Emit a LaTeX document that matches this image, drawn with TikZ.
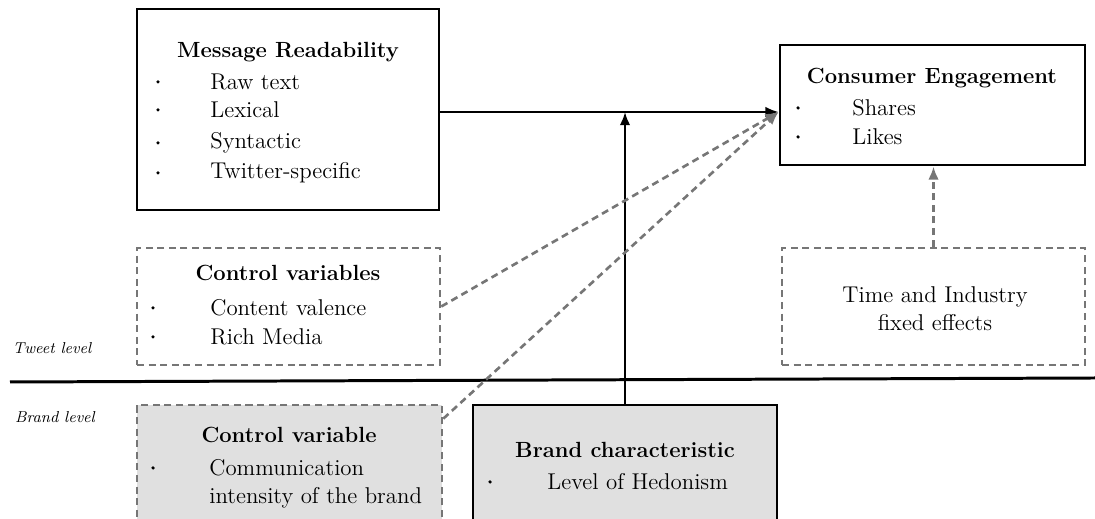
\documentclass[tikz,border=0pt]{standalone}
\usepackage{tikz}
\usetikzlibrary{arrows.meta}
\definecolor{dashgray}{RGB}{118,118,118}
\definecolor{boxgray}{RGB}{224,224,224}

\begin{document}
\begin{tikzpicture}[>={Latex[length=7.5pt,width=6pt]}, x=0.02cm, y=0.02cm,
		txt/.style={font=\fontsize{13}{15}\selectfont, inner sep=0pt},
		ttl/.style={font=\fontsize{12.5}{15}\selectfont\bfseries, inner sep=0pt},
		lvl/.style={font=\fontsize{9}{11}\selectfont\itshape, inner sep=0pt},
		solidbox/.style={draw, line width=1.6pt, inner sep=0pt},
		dashbox/.style={draw=dashgray, line width=1.5pt, dash pattern=on 4pt off 2.6pt, inner sep=0pt},
		solidarrow/.style={line width=1.3pt, ->},
		dasharrow/.style={draw=dashgray, line width=1.5pt, dash pattern=on 4pt off 2.6pt, ->}]

				\useasboundingbox (0,0) rectangle (1095,519);

				\node[solidbox, minimum width=6.04cm, minimum height=4.02cm] (msg) at (288,409.5) {};
				\node[solidbox, minimum width=6.1cm, minimum height=2.4cm] (eng) at (932.5,414) {};
				\node[dashbox, minimum width=6.06cm, minimum height=2.34cm] (ctrl) at (288.5,212.5) {};
				\node[dashbox, minimum width=6.06cm, minimum height=2.34cm] (fixed) at (933.5,212.5) {};
				\node[dashbox, fill=boxgray, minimum width=6.1cm, minimum height=3.1cm] (brandctrl) at (289.5,36.5) {};
				\node[solidbox, fill=boxgray, minimum width=6.08cm, minimum height=3.1cm] (brand) at (625,36.5) {};

				\draw[line width=1.7pt] (10,137)--(1095,141);

				\node[lvl] (tweetlvl) at (52,171) {Tweet level};
				\node[lvl] (brandlvl) at (55,102) {Brand level};

				\node[ttl] (msgttl) at (288,467) {Message Readability};
				\foreach \y in {437,409,376,346} \fill (158,\y) circle (1pt);
				\node[txt, anchor=west] (raw) at (210,437) {Raw text};
				\node[txt, anchor=west] (lex) at (210,409) {Lexical};
				\node[txt, anchor=west] (syn) at (210,376) {Syntactic};
				\node[txt, anchor=west] (twt) at (210,346) {Twitter-specific};

				\node[ttl] (engttl) at (932,441) {Consumer Engagement};
				\foreach \y in {411,382} \fill (798,\y) circle (1pt);
				\node[txt, anchor=west] (shares) at (852,411) {Shares};
				\node[txt, anchor=west] (likes) at (852,382) {Likes};

				\node[ttl] (ctrlttl) at (288,246) {Control variables};
				\foreach \y in {211,182} \fill (153,\y) circle (1pt);
				\node[txt, anchor=west] (val) at (210,211) {Content valence};
				\node[txt, anchor=west] (rich) at (210,182) {Rich Media};

				\node[txt, align=center, font=\fontsize{13}{16}\selectfont] (fixtxt) at (935,210) {Time and Industry\\fixed effects};

				\node[ttl] (brandctrlttl) at (289,84) {Control variable};
				\fill (153,51) circle (1pt);
				\node[txt, anchor=north west, align=left, font=\fontsize{13}{16}\selectfont] (comm) at (209,60) {Communication\\intensity of\ the brand};

				\node[ttl] (brandttl) at (625,69) {Brand characteristic};
				\fill (490,37) circle (1pt);
				\node[txt, anchor=west] (hed) at (547,37) {Level of\ Hedonism};

				\coordinate (tip) at ([yshift=-0.14cm]eng.west);
				\draw[solidarrow] (msg.east |- tip)--(tip);
				\draw[solidarrow] (brand.north)--(brand.north |- tip);
				\draw[dasharrow] (ctrl.east)--(tip);
				\draw[dasharrow] ([yshift=-0.3cm]brandctrl.north east)--(tip);
				\draw[dasharrow] (fixed.north)--(fixed.north |- eng.south);

\end{tikzpicture}
\end{document}
